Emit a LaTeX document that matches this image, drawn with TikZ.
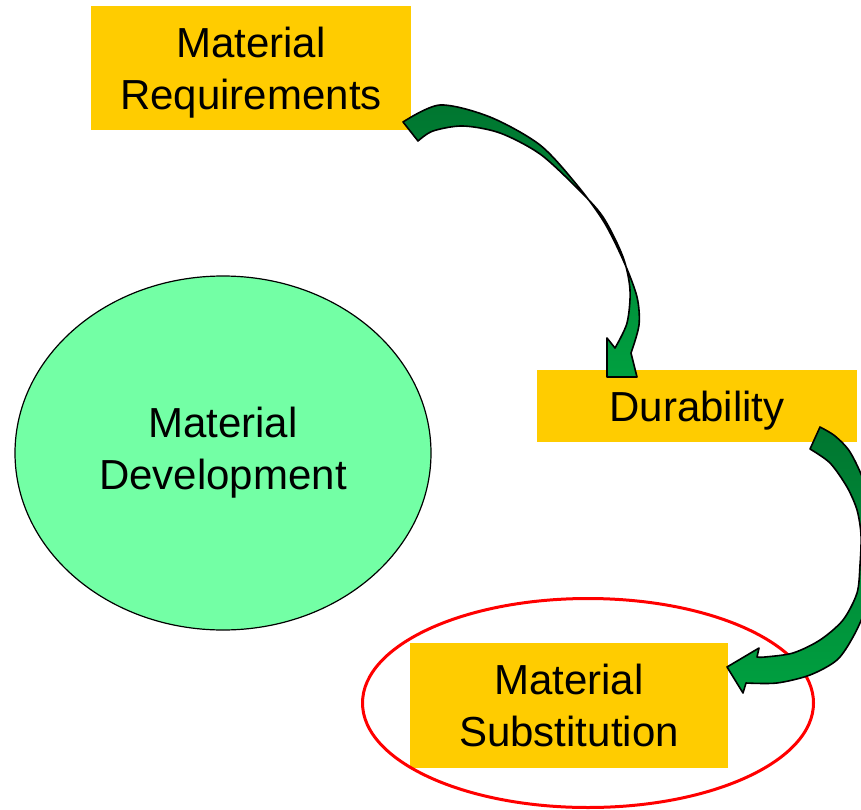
\documentclass[tikz,border=0pt]{standalone}
\usepackage{fontspec}
\setmainfont{Liberation Sans}
\usetikzlibrary{shapes.geometric}
\definecolor{boxyellow}{RGB}{255,204,0}
\definecolor{ovalgreen}{RGB}{115,255,165}
\definecolor{darkarrow}{RGB}{0,118,48}
\definecolor{lightarrow}{RGB}{0,160,64}
\tikzset{
  box/.style={rectangle, fill=boxyellow, inner sep=0pt},
  boxtext/.style={align=center, inner sep=0pt, font=\fontsize{42}{52}\selectfont},
  oval/.style={ellipse, draw=black, line width=1.2pt, fill=ovalgreen, inner sep=0pt,
    align=center, font=\fontsize{42}{52}\selectfont},
  ring/.style={ellipse, draw=red, line width=3pt, inner sep=0pt},
  blockarrow/.style={draw=black, line width=1.6pt, line join=round,
    top color=darkarrow, bottom color=lightarrow}
}
\begin{document}
\begin{tikzpicture}[x=1pt,y=-1pt]
\useasboundingbox (0,0) rectangle (861,810);
\clip (0,0) rectangle (861,810);
\node[box, minimum width=320pt, minimum height=124pt,
  label={[boxtext, yshift=-5pt]center:{Material\\Requirements}}] (req) at (251,68) {};
\node[box, minimum width=320pt, minimum height=72pt,
  label={[boxtext, yshift=-5pt]center:{Durability}}] (dur) at (697,406) {};
\node[box, minimum width=318pt, minimum height=125pt,
  label={[boxtext, yshift=0pt]center:{Material\\Substitution}}] (sub) at (569,705) {};
\node[oval, minimum width=416pt, minimum height=354pt] (dev) at (223,453) {Material\\Development};
\node[ring, minimum width=451pt, minimum height=209pt] (ring) at (588,703) {};
% arrow from Material Requirements to Durability
\filldraw[blockarrow] (403,122)
  -- plot[smooth] coordinates {(403,122) (440,105) (490,117) (540,145) (577,185) (604,222) (624,262) (637,297) (639,325) (631,353)}
  -- (637,377) -- (607,377) -- (607,338) -- (615,348)
  -- plot[smooth] coordinates {(615,348) (627,323) (630,290) (623,257) (603,217) (577,188) (540,154) (500,133) (463,126) (433,131) (418,141)}
  -- cycle;
% arrow from Durability to Material Substitution
\filldraw[blockarrow] (820,427)
  -- (810,449)
  -- plot[smooth] coordinates {(810,449) (830,463) (847,487) (857,510) (861,535) (860,565) (857,593) (843,620) (820,640) (793,653) (765,657) (757,657)}
  -- (759,648) -- (727,667) -- (743,693) -- (746,683)
  -- plot[smooth] coordinates {(746,683) (777,683) (810,675) (837,660) (853,637) (865,610) (872,575) (872,520) (864,482) (850,452) (835,436) (820,427)}
  -- cycle;
\end{tikzpicture}
\end{document}
